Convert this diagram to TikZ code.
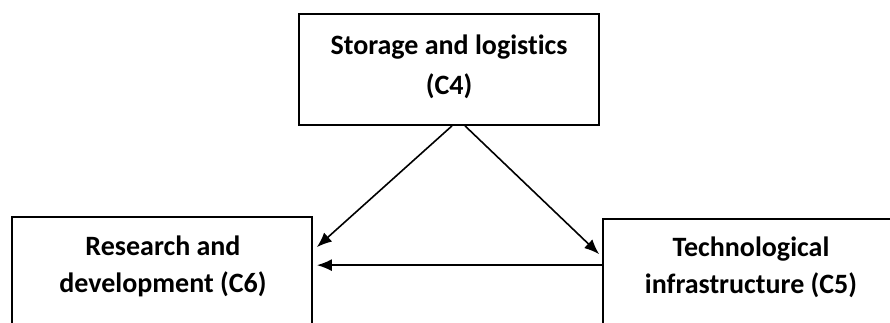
\documentclass[tikz,border=0pt]{standalone}
\usepackage{fontspec}
\setmainfont[Ligatures=NoCommon]{Carlito}
\usetikzlibrary{arrows.meta,calc}
\begin{document}
\begin{tikzpicture}[x=1pt,y=-1pt,
  box/.style={draw=black,line width=1.7pt,minimum width=300pt,inner sep=0pt},
  lbl/.style={align=center,font=\fontsize{28}{37}\selectfont\bfseries,inner sep=0pt},
  arr/.style={line width=1.6pt,-{Latex[length=15pt,width=12pt]}}]
\useasboundingbox (0,0) rectangle (890,322);
\clip (0,0) rectangle (890,322);
\node[box,minimum height=111pt] (c4) at (449,69.5) {};
\node[box,minimum height=150pt] (c6) at (162,292) {};
\node[box,minimum height=150pt] (c5) at (753,294) {};
\node[lbl,font=\fontsize{28}{40}\selectfont\bfseries] (t4) at (449,66.5) {Storage and logistics\\(C4)};
\node[lbl] (t6) at (163,266) {Research and\\development (C6)};
\node[lbl] (t5) at (751,267) {Technological\\infrastructure (C5)};
\draw[arr] ($(c4.south)+(3,0)$) -- ($(c6.north east)+(4,31)$);
\draw[arr] ($(c4.south)+(16,0)$) -- ($(c5.north west)+(-3,36)$);
\draw[arr] ($(c5.north west)+(0,47)$) -- ($(c6.north east)+(4,49)$);
\end{tikzpicture}
\end{document}
